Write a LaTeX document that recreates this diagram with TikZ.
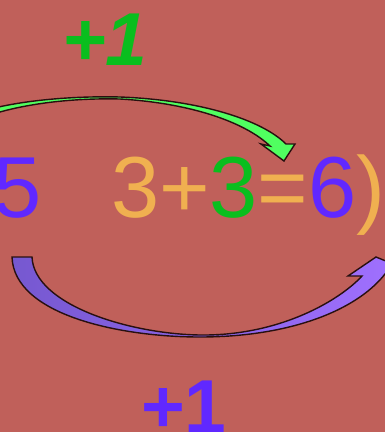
\documentclass[tikz,border=0pt]{standalone}
\usepackage{fontspec}
\setmainfont{Liberation Sans}
\definecolor{bg}{RGB}{192,96,90}
\definecolor{txtgreen}{RGB}{10,190,30}
\definecolor{txtpurple}{RGB}{96,40,255}
\definecolor{txtorange}{RGB}{240,176,80}
\definecolor{arrgreen}{RGB}{80,255,96}
\definecolor{arrpurpleL}{RGB}{118,88,208}
\definecolor{arrpurpleR}{RGB}{160,112,255}
\definecolor{outlinec}{RGB}{40,16,16}
\begin{document}
\begin{tikzpicture}[x=1pt,y=-1pt,
  txt/.style={inner sep=0,outer sep=0,anchor=base west,font=\fontsize{86.6}{90}\selectfont},
  bigbold/.style={inner sep=0,outer sep=0,anchor=base west,font=\fontsize{75}{80}\selectfont\bfseries},
  bigbolditalic/.style={inner sep=0,outer sep=0,anchor=base west,font=\fontsize{75}{80}\selectfont\bfseries\itshape},
  arrowshape/.style={draw=outlinec,line width=1.4pt,line join=miter}]
\useasboundingbox (0,0) rectangle (385,432);
\fill[bg] (0,0) rectangle (385,432);
\begin{scope}
\clip (0,0) rectangle (385,432);
% texts
\node[bigbolditalic, text=txtgreen] (topone) at (62,65) {+1};
\node[txt, text=txtpurple] (five) at (-6,217) {5};
\node[txt] (eqn) at (111,217) {\textcolor{txtorange}{3+}\textcolor{txtgreen}{3}\textcolor{txtorange}{=}\textcolor{txtpurple}{6}\textcolor{txtorange}{)}};
\node[bigbold, text=txtpurple] (botone) at (141,432) {+1};
% green arrow
\path[arrowshape, fill=arrgreen]
  (-10,109) .. controls (30,99) and (80,96) .. (120,97)
  .. controls (200,100) and (262,120) .. (286,144)
  -- (295,144) -- (284,161) -- (261,144) -- (270,146)
  .. controls (245,122) and (190,103) .. (120,99)
  .. controls (80,98) and (30,102) .. (-10,115) -- cycle;
% purple arrow
\path[arrowshape, left color=arrpurpleL, right color=arrpurpleR]
  (12,257) -- (32,257)
  .. controls (34,305) and (130,334) .. (200,335)
  .. controls (280,336) and (340,300) .. (362,276)
  -- (348,276) -- (376,257) -- (398,266) -- (388,270)
  .. controls (360,310) and (290,337) .. (200,337)
  .. controls (120,337) and (14,315) .. (12,257) -- cycle;
\end{scope}
\end{tikzpicture}
\end{document}
